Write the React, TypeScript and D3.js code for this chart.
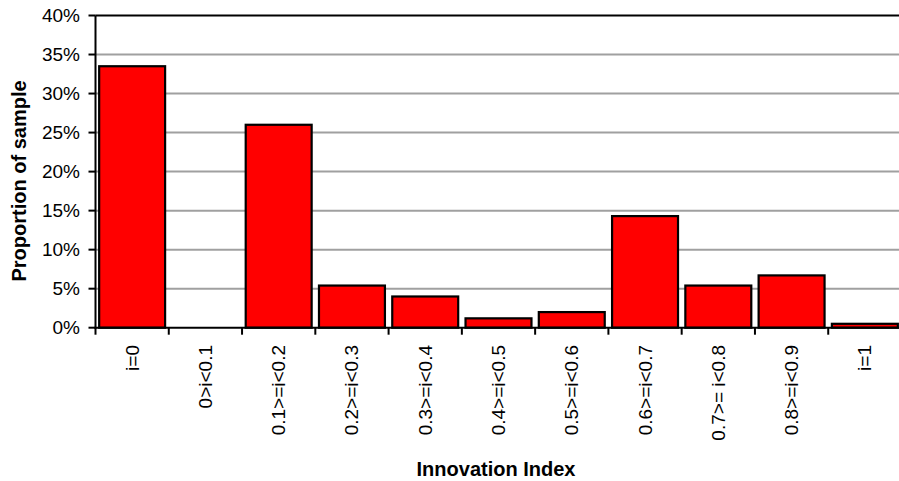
import React from "react";
import * as d3 from "d3";

// Innovation index bins and the share of the sample falling in each
const categories: string[] = [
  "i=0",
  "0>i<0.1",
  "0.1>=i<0.2",
  "0.2>=i<0.3",
  "0.3>=i<0.4",
  "0.4>=i<0.5",
  "0.5>=i<0.6",
  "0.6>=i<0.7",
  "0.7>= i<0.8",
  "0.8>=i<0.9",
  "i=1",
];
const proportions: number[] = [
  0.335, 0.0, 0.26, 0.054, 0.04, 0.012, 0.02, 0.143, 0.054, 0.067, 0.005,
];
const yTicks: number[] = [0, 0.05, 0.1, 0.15, 0.2, 0.25, 0.3, 0.35, 0.4];

const W = 899;
const H = 481;
const plot = { left: 95.5, right: 901.5, top: 15.5, bottom: 327.7 };
const FONT = "'Liberation Sans', Arial, Helvetica, sans-serif";

export default function App() {
  const x = d3
    .scaleBand<string>()
    .domain(categories)
    .range([plot.left, plot.right])
    .paddingInner(0.1)
    .paddingOuter(0.05);
  const y = d3.scaleLinear().domain([0, 0.4]).range([plot.bottom, plot.top]);
  const pct = d3.format(".0%");
  const step = x.step();
  const boundaries = d3.range(categories.length + 1).map((i) => plot.left + i * step);

  return (
    <svg
      width={W}
      height={H}
      style={{ position: "absolute", left: 0, top: 0, background: "#fff" }}
      fontFamily={FONT}
    >
      {/* horizontal gridlines */}
      {yTicks
        .filter((t) => t > 0 && t < 0.4)
        .map((t) => (
          <line
            key={"g" + t}
            x1={plot.left}
            x2={W}
            y1={y(t)}
            y2={y(t)}
            stroke="#a0a0a0"
            strokeWidth={2}
          />
        ))}
      {/* top border of the plot area */}
      <line x1={plot.left} x2={W} y1={y(0.4)} y2={y(0.4)} stroke="#000" strokeWidth={2} />

      {/* bars */}
      {categories.map((c, i) => (
        <rect
          key={c}
          x={x(c)}
          y={y(proportions[i])}
          width={x.bandwidth()}
          height={y(0) - y(proportions[i])}
          fill="#ff0000"
          stroke="#000"
          strokeWidth={2.2}
        />
      ))}

      {/* y axis */}
      <line x1={plot.left} x2={plot.left} y1={plot.top} y2={plot.bottom + 1} stroke="#000" strokeWidth={2} />
      {yTicks.map((t) => (
        <g key={"t" + t}>
          <line x1={plot.left - 7} x2={plot.left} y1={y(t)} y2={y(t)} stroke="#000" strokeWidth={2} />
          <text
            x={80}
            y={y(t)}
            textAnchor="end"
            dominantBaseline="central"
            fontSize={19}
            fill="#000"
          >
            {pct(t)}
          </text>
        </g>
      ))}

      {/* x axis */}
      <line x1={plot.left - 1} x2={W} y1={plot.bottom} y2={plot.bottom} stroke="#000" strokeWidth={2} />
      {boundaries.map((bx, i) => (
        <line
          key={"xt" + i}
          x1={bx}
          x2={bx}
          y1={plot.bottom}
          y2={plot.bottom + 7}
          stroke="#000"
          strokeWidth={2}
        />
      ))}
      {categories.map((c) => {
        const cx = (x(c) as number) + x.bandwidth() / 2;
        const ty = 345;
        return (
          <text
            key={"xl" + c}
            transform={`translate(${cx},${ty}) rotate(-90)`}
            textAnchor="end"
            dominantBaseline="central"
            fontSize={19}
            fill="#000"
          >
            {c}
          </text>
        );
      })}

      {/* axis titles */}
      <text x={496} y={476} textAnchor="middle" fontSize={20} fontWeight="bold" fill="#000">
        Innovation Index
      </text>
      <text
        transform={`translate(25.5,181) rotate(-90)`}
        textAnchor="middle"
        fontSize={20}
        fontWeight="bold"
        fill="#000"
      >
        Proportion of sample
      </text>
    </svg>
  );
}
